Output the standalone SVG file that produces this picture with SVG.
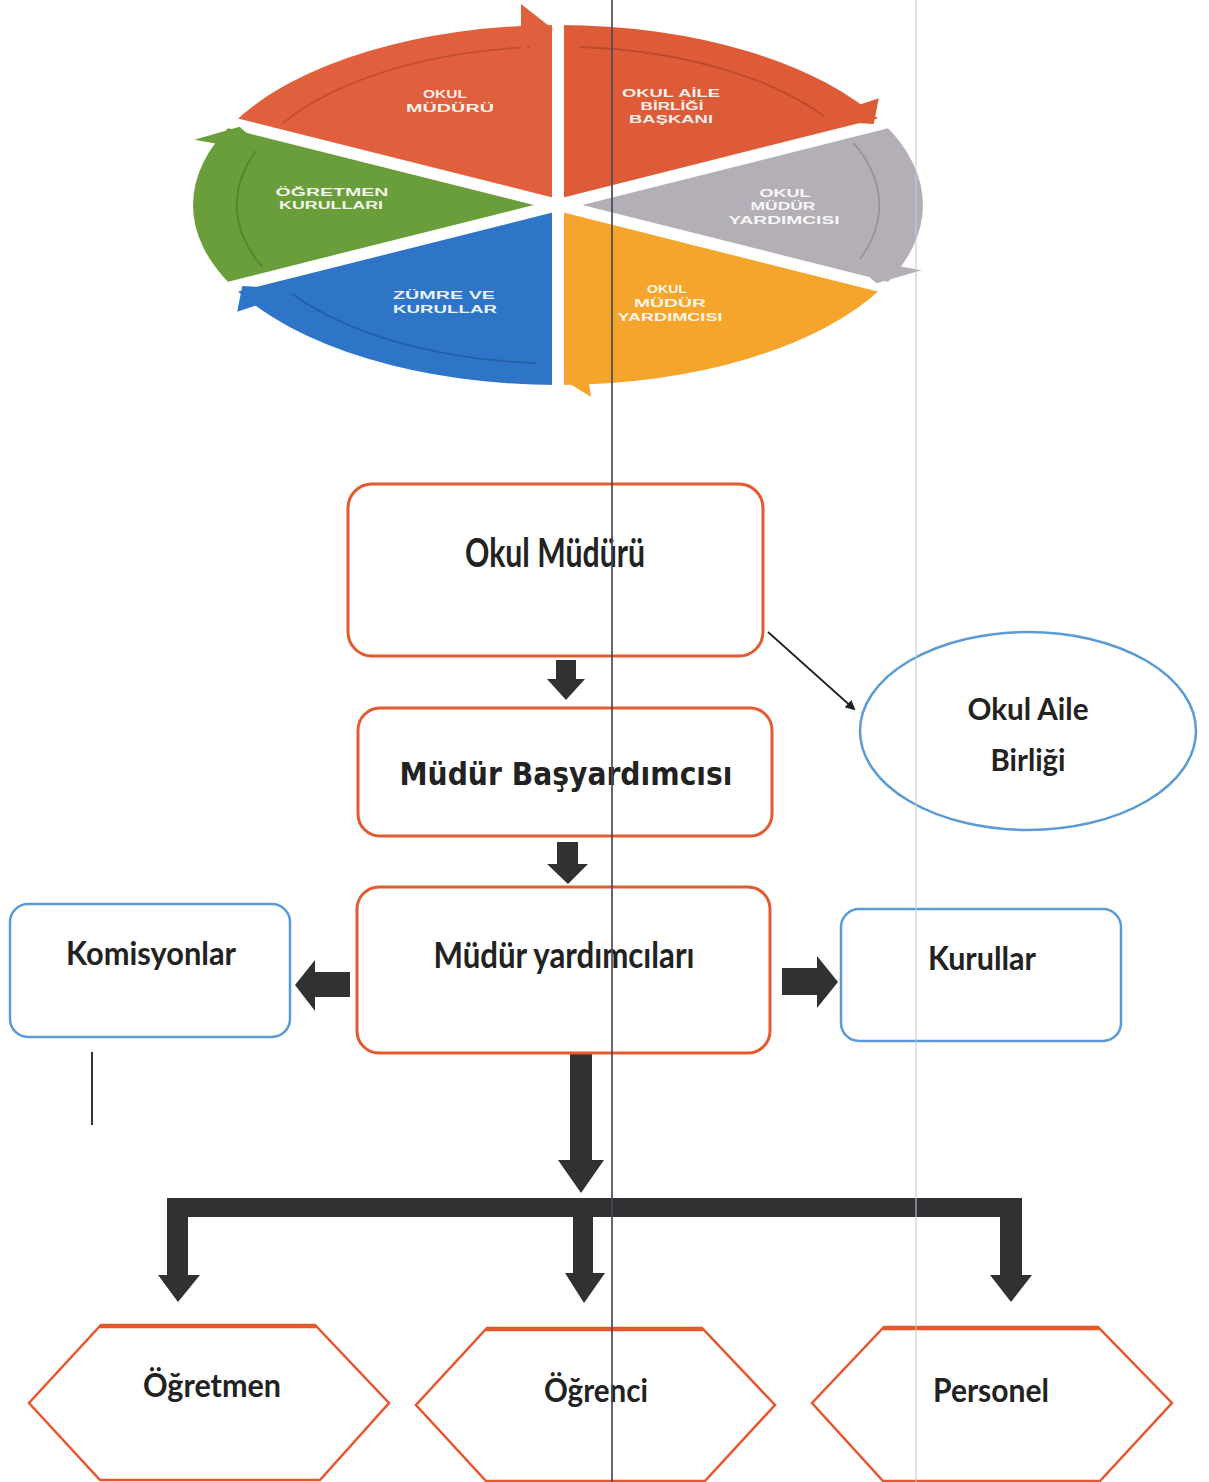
<svg xmlns="http://www.w3.org/2000/svg" width="1209" height="1482" viewBox="0 0 1209 1482">
<defs>
<style>
.pie-t{font-family:"Liberation Sans",Arial,sans-serif;font-weight:bold;font-size:11.5px;fill:#ffffff;fill-opacity:0.92;text-anchor:middle}
.box-o{fill:#ffffff;stroke:#E35A31;stroke-width:3}
.box-b{fill:#ffffff;stroke:#5B9BD5;stroke-width:2.5}
.hex{fill:#ffffff;stroke:#E8562C;stroke-width:2.5}
.lbl{font-family:Lato,"Liberation Sans",sans-serif;font-weight:bold;fill:#222222;text-anchor:middle}
.lbl2{font-family:"DejaVu Sans","Liberation Sans",sans-serif;font-weight:bold;fill:#222222;text-anchor:middle}
.blk{fill:#2F3133}
.gap{stroke:#ffffff;stroke-width:12;stroke-linecap:butt}
.inner{fill:none;stroke-width:1.8;opacity:0.75}
</style>
<marker id="ah" markerWidth="10" markerHeight="10" refX="8" refY="5" orient="auto" markerUnits="userSpaceOnUse">
<path d="M0,0 L10,5 L0,10 Z" fill="#222"/>
</marker>
</defs>
<rect width="1209" height="1482" fill="#ffffff"/>

<g id="pie-chart">
<path d="M558,205 L232.8,123.3 A365,180 0 0 1 558,25 Z" fill="#E0603D"/>
<path d="M558,205 L558,25 A365,180 0 0 1 883.2,123.3 Z" fill="#DE5B37"/>
<path d="M558,205 L883.2,123.3 A365,180 0 0 1 883.2,286.7 Z" fill="#B4AFB7"/>
<path d="M558,205 L883.2,286.7 A365,180 0 0 1 558,385 Z" fill="#F5A52B"/>
<path d="M558,205 L558,385 A365,180 0 0 1 232.8,286.7 Z" fill="#2E75C8"/>
<path d="M558,205 L232.8,286.7 A365,180 0 0 1 232.8,123.3 Z" fill="#6A9E3A"/>
<path class="inner" stroke="#B84A2A" d="M282.7,123.4 A321.2,158.4 0 0 1 530,47.2"/>
<path class="inner" stroke="#B0442A" d="M580.4,47 A321.2,158.4 0 0 1 824.3,116.4"/>
<path class="inner" stroke="#8E8990" d="M853.7,143.1 A321.2,158.4 0 0 1 859.8,259.2"/>
<path class="inner" stroke="#1F5A9E" d="M535.6,363 A321.2,158.4 0 0 1 291.7,293.6"/>
<path class="inner" stroke="#4E7C27" d="M262.3,266.9 A321.2,158.4 0 0 1 256.2,150.8"/>
<line class="gap" x1="558" y1="205" x2="558" y2="-10"/>
<line class="gap" x1="558" y1="205" x2="948" y2="107"/>
<line class="gap" x1="558" y1="205" x2="948" y2="303"/>
<line class="gap" x1="558" y1="205" x2="558" y2="420"/>
<line class="gap" x1="558" y1="205" x2="168" y2="303"/>
<line class="gap" x1="558" y1="205" x2="168" y2="107"/>
<polygon points="521,4 553,29 521,52" fill="#E0603D"/>
<polygon points="878.8,98.3 873.7,124 812.2,120.4" fill="#DE5B37"/>
<polygon points="921.6,270.3 876.5,283.3 846.1,256.7" fill="#B4AFB7"/>
<polygon points="591,397 567,382 584.7,355.6" fill="#F5A52B"/>
<polygon points="237.2,311.7 242.3,286 303.8,289.6" fill="#2E75C8"/>
<polygon points="194.4,139.7 239.5,126.7 269.9,153.3" fill="#6A9E3A"/>
<text class="pie-t" x="445" y="98" textLength="44" lengthAdjust="spacingAndGlyphs">OKUL</text>
<text class="pie-t" x="450" y="112" textLength="88" lengthAdjust="spacingAndGlyphs">MÜDÜRÜ</text>
<text class="pie-t" x="671" y="97" textLength="98" lengthAdjust="spacingAndGlyphs">OKUL AİLE</text>
<text class="pie-t" x="672" y="110" textLength="63" lengthAdjust="spacingAndGlyphs">BİRLİĞİ</text>
<text class="pie-t" x="671" y="123" textLength="84" lengthAdjust="spacingAndGlyphs">BAŞKANI</text>
<text class="pie-t" x="332" y="196" textLength="113" lengthAdjust="spacingAndGlyphs">ÖĞRETMEN</text>
<text class="pie-t" x="331" y="209" textLength="104" lengthAdjust="spacingAndGlyphs">KURULLARI</text>
<text class="pie-t" x="785" y="197" textLength="51" lengthAdjust="spacingAndGlyphs">OKUL</text>
<text class="pie-t" x="783" y="210" textLength="65" lengthAdjust="spacingAndGlyphs">MÜDÜR</text>
<text class="pie-t" x="784" y="224" textLength="111" lengthAdjust="spacingAndGlyphs">YARDIMCISI</text>
<text class="pie-t" x="444" y="299" textLength="102" lengthAdjust="spacingAndGlyphs">ZÜMRE VE</text>
<text class="pie-t" x="445" y="313" textLength="104" lengthAdjust="spacingAndGlyphs">KURULLAR</text>
<text class="pie-t" x="667" y="293" textLength="40" lengthAdjust="spacingAndGlyphs">OKUL</text>
<text class="pie-t" x="670" y="307" textLength="72" lengthAdjust="spacingAndGlyphs">MÜDÜR</text>
<text class="pie-t" x="670" y="321" textLength="105" lengthAdjust="spacingAndGlyphs">YARDIMCISI</text>
</g>

<g id="connectors">
<polygon class="blk" points="556,660 576,660 576,679 585,679 566,700 547,679 556,679"/>
<polygon class="blk" points="557,842 578,842 578,864 588,864 568,884 547,864 557,864"/>
<polygon class="blk" points="350,972 315,972 315,960 295,985 315,1011 315,997 350,997"/>
<polygon class="blk" points="782,968 817,968 817,956 838,982 817,1008 817,995 782,995"/>
<polygon class="blk" points="570,1052 592,1052 592,1160 604,1160 581,1193 558,1160 570,1160"/>
<path class="blk" d="M167,1198 L1022,1198 L1022,1275 L1032,1275 L1011,1302 L990,1275 L1000,1275 L1000,1217 L188,1217 L188,1275 L200,1275 L178,1302 L158,1275 L167,1275 Z"/>
<polygon class="blk" points="573,1217 593,1217 593,1273 605,1273 584,1303 565,1273 573,1273"/>
<line x1="768" y1="632" x2="854" y2="709" stroke="#222" stroke-width="1.8" marker-end="url(#ah)"/>
<line x1="92" y1="1052" x2="92" y2="1125" stroke="#333" stroke-width="2"/>
</g>

<g id="node-okul-muduru">
<rect class="box-o" x="348" y="484" width="415" height="172" rx="24"/>
<text class="lbl" x="555" y="567" font-size="40" textLength="180" lengthAdjust="spacingAndGlyphs">Okul Müdürü</text>
</g>
<g id="node-mudur-basyardimcisi">
<rect class="box-o" x="358" y="708" width="414" height="128" rx="22"/>
<text class="lbl2" x="566" y="785" font-size="32" textLength="333" lengthAdjust="spacingAndGlyphs">Müdür Başyardımcısı</text>
</g>
<g id="node-okul-aile-birligi">
<ellipse cx="1028" cy="731" rx="168" ry="99" fill="#ffffff" stroke="#5B9BD5" stroke-width="2.5"/>
<text class="lbl" x="1028" y="720" font-size="31" textLength="121" lengthAdjust="spacingAndGlyphs">Okul Aile</text>
<text class="lbl" x="1028" y="771" font-size="31" textLength="75" lengthAdjust="spacingAndGlyphs">Birliği</text>
</g>
<g id="node-mudur-yardimcilari">
<rect class="box-o" x="357" y="887" width="413" height="166" rx="22"/>
<text class="lbl" x="564" y="968" font-size="36" textLength="261" lengthAdjust="spacingAndGlyphs">Müdür yardımcıları</text>
</g>
<g id="node-komisyonlar">
<rect class="box-b" x="10" y="904" width="280" height="133" rx="18"/>
<text class="lbl" x="151" y="965" font-size="33" textLength="170" lengthAdjust="spacingAndGlyphs">Komisyonlar</text>
</g>
<g id="node-kurullar">
<rect class="box-b" x="841" y="909" width="280" height="132" rx="18"/>
<text class="lbl" x="982" y="970" font-size="33" textLength="108" lengthAdjust="spacingAndGlyphs">Kurullar</text>
</g>
<g id="node-ogretmen">
<polygon class="hex" points="100,1326 316,1326 389,1403 320,1480 100,1480 29,1403"/>
<line x1="100" y1="1326" x2="316" y2="1326" stroke="#E8562C" stroke-width="4.5"/>
<text class="lbl" x="212" y="1397" font-size="32" textLength="138" lengthAdjust="spacingAndGlyphs">Öğretmen</text>
</g>
<g id="node-ogrenci">
<polygon class="hex" points="486,1329 703,1329 775,1405 705,1481 486,1481 416,1405"/>
<line x1="486" y1="1329" x2="703" y2="1329" stroke="#E8562C" stroke-width="4.5"/>
<text class="lbl" x="596" y="1402" font-size="32" textLength="104" lengthAdjust="spacingAndGlyphs">Öğrenci</text>
</g>
<g id="node-personel">
<polygon class="hex" points="883,1328 1099,1328 1172,1403 1100,1481 883,1481 812,1403"/>
<line x1="883" y1="1328" x2="1099" y2="1328" stroke="#E8562C" stroke-width="4.5"/>
<text class="lbl" x="991" y="1402" font-size="32" textLength="116" lengthAdjust="spacingAndGlyphs">Personel</text>
</g>

<g id="scan-lines">
<line x1="612" y1="0" x2="612" y2="1482" stroke="#4A4A5C" stroke-width="2" opacity="0.85"/>
<line x1="916" y1="0" x2="916" y2="1482" stroke="#C8C8D0" stroke-width="1.5" opacity="0.7"/>
</g>
</svg>
